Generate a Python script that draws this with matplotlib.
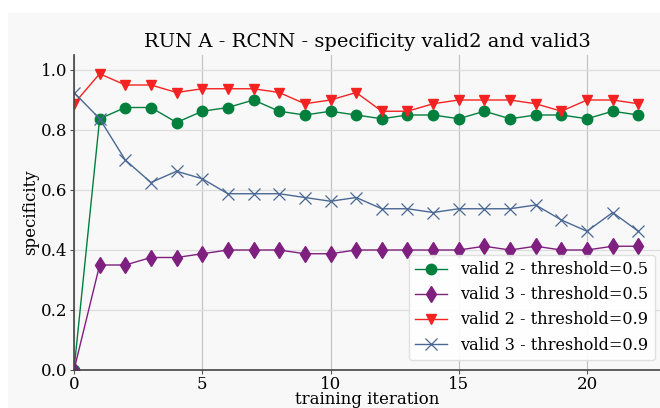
import matplotlib
matplotlib.use("Agg")
import matplotlib.pyplot as plt
from matplotlib.patches import Rectangle

iterations = list(range(23))

valid2_t05 = [0.0, 0.8375, 0.875, 0.875, 0.825, 0.8625, 0.875, 0.9, 0.8625, 0.85, 0.8625, 0.85,
              0.8375, 0.85, 0.85, 0.8375, 0.8625, 0.8375, 0.85, 0.85, 0.8375, 0.8625, 0.85]
valid3_t05 = [0.0, 0.35, 0.35, 0.375, 0.375, 0.3875, 0.4, 0.4, 0.4, 0.3875, 0.3875, 0.4,
              0.4, 0.4, 0.4, 0.4, 0.4125, 0.4, 0.4125, 0.4, 0.4, 0.4125, 0.4125]
valid2_t09 = [0.8875, 0.9875, 0.95, 0.95, 0.925, 0.9375, 0.9375, 0.9375, 0.925, 0.8875, 0.9, 0.925,
              0.8625, 0.8625, 0.8875, 0.9, 0.9, 0.9, 0.8875, 0.8625, 0.9, 0.9, 0.8875]
valid3_t09 = [0.925, 0.8375, 0.7, 0.625, 0.6625, 0.6375, 0.5875, 0.5875, 0.5875, 0.575, 0.5625, 0.575,
              0.5375, 0.5375, 0.525, 0.5375, 0.5375, 0.5375, 0.55, 0.5, 0.4625, 0.525, 0.4625]

labels = ["valid 2 - threshold=0.5", "valid 3 - threshold=0.5",
          "valid 2 - threshold=0.9", "valid 3 - threshold=0.9"]

bg = "#f8f8f8"
plt.rcParams["font.family"] = "DejaVu Serif"

fig = plt.figure(figsize=(6.6, 4.08), dpi=100, facecolor="white")
fig.patches.append(Rectangle((8 / 660, 0), 1, (408 - 13) / 408, transform=fig.transFigure,
                             facecolor=bg, edgecolor="none", zorder=-10))
ax = fig.add_axes([74 / 660, 38 / 408, (660 - 74) / 660, (370 - 55) / 408])
ax.set_facecolor(bg)

ax.plot(iterations, valid2_t05, "-o", color="#00803c", lw=1, ms=7.5, label=labels[0])
ax.plot(iterations, valid3_t05, "-d", color="#7f1f7f", lw=1, ms=8, label=labels[1])
ax.plot(iterations, valid2_t09, "-v", color="#f52222", lw=1, ms=7.5, label=labels[2])
ax.plot(iterations, valid3_t09, "-x", color="#4a6894", lw=1, ms=8, mew=0.9, label=labels[3])

ax.set_xlim(0, (660 - 74) / 25.65)
ax.set_ylim(0, 1.05)
ax.set_xticks([0, 5, 10, 15, 20])
ax.set_yticks([0.0, 0.2, 0.4, 0.6, 0.8, 1.0])
ax.set_yticklabels(["0.0", "0.2", "0.4", "0.6", "0.8", "1.0"])
ax.tick_params(labelsize=12, length=3, width=0.8, colors="#555555", labelcolor="black")
ax.tick_params(axis="y", pad=2)
ax.tick_params(axis="x", pad=1)
ax.grid(axis="y", color="#dddddd", lw=0.9)
ax.grid(axis="x", color="#c4c4c4", lw=0.9)
ax.set_axisbelow(True)
for side in ["top", "right"]:
    ax.spines[side].set_visible(False)
for side in ["left", "bottom"]:
    ax.spines[side].set_color("#444444")
    ax.spines[side].set_linewidth(1.2)

ax.set_title("RUN A - RCNN - specificity valid2 and valid3", fontsize=14, pad=6)
ax.set_xlabel("training iteration", fontsize=12, labelpad=-1)
ax.set_ylabel("specificity", fontsize=12, labelpad=1)
ax.legend(loc="lower right", fontsize=11.6, facecolor="white", edgecolor="#dddddd",
          framealpha=0.9, handlelength=2, borderaxespad=0,
          bbox_to_anchor=(655 / 660, 48 / 408), bbox_transform=fig.transFigure)

fig.savefig("out.png", dpi=100, facecolor=fig.get_facecolor())
